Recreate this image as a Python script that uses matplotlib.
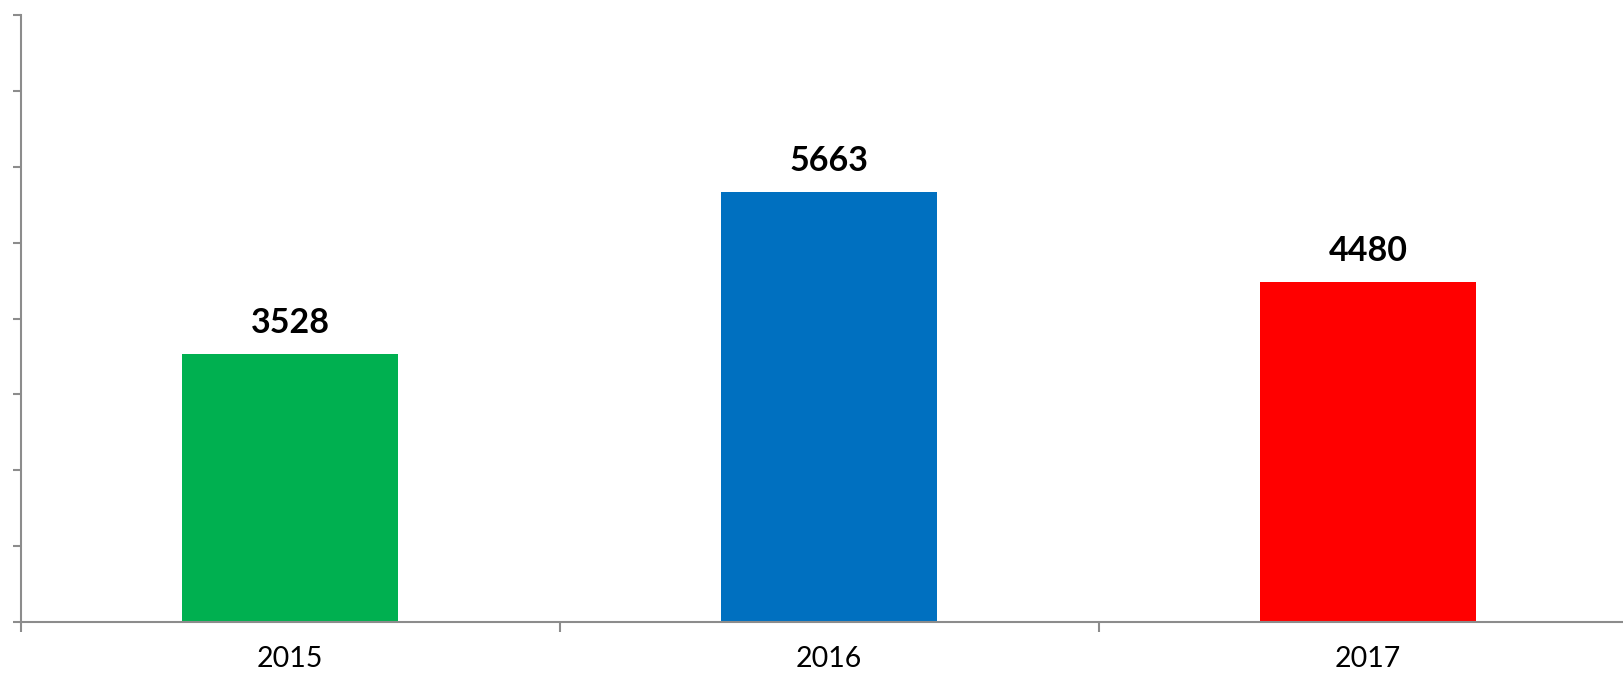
import matplotlib
matplotlib.use("Agg")
import matplotlib.pyplot as plt

# Data
years = ["2015", "2016", "2017"]
values = [3528, 5663, 4480]
colors = ["#00B050", "#0070C0", "#FF0000"]

plt.rcParams['font.family'] = ['Lato', 'DejaVu Sans']

W, H = 1623, 675
fig = plt.figure(figsize=(W / 100, H / 100), dpi=100)
# axes runs slightly past the right edge, like the cropped original
ax = fig.add_axes([20.7 / W, 53 / H, 1617 / W, 607 / H])

x = range(len(years))
bars = ax.bar(x, values, width=0.4, color=colors)

# value labels above the bars
for b, v in zip(bars, values):
    ax.annotate(str(v), (b.get_x() + b.get_width() / 2, v),
                xytext=(0, 15), textcoords='offset points',
                ha='center', va='baseline',
                fontsize=24.5, fontweight='bold', color='black')

ax.set_xlim(-0.5, 2.5)
ax.set_ylim(0, 8000)

# y ticks without labels
ax.set_yticks(range(0, 8001, 1000))
ax.set_yticklabels([])

# category boundaries as major ticks, names as minor ticks
ax.set_xticks([-0.5, 0.5, 1.5])
ax.set_xticklabels([])
ax.set_xticks(list(x), minor=True)
ax.set_xticklabels(years, minor=True, fontsize=20.5)

spine_col = '#8C8C8C'
for s in ['top', 'right']:
    ax.spines[s].set_visible(False)
for s in ['left', 'bottom']:
    ax.spines[s].set_color(spine_col)
    ax.spines[s].set_linewidth(1.5)

ax.tick_params(axis='y', which='major', length=6, width=1.5, color=spine_col)
ax.tick_params(axis='x', which='major', length=7, width=1.5, color=spine_col)
ax.tick_params(axis='x', which='minor', length=0, pad=17, labelcolor='black')

fig.savefig("out.png", dpi=100)
